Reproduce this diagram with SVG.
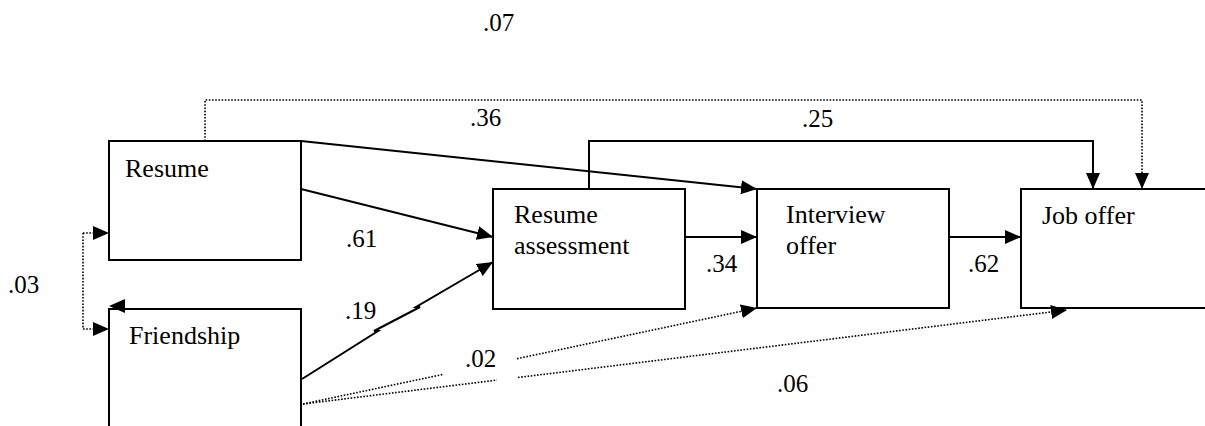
<svg xmlns="http://www.w3.org/2000/svg" width="1205" height="426" viewBox="0 0 1205 426">
<style>
.box{fill:#fff;stroke:#000;stroke-width:2}
.t{font-family:"Liberation Serif","Times New Roman",serif;font-size:26px;fill:#000}
.l{font-family:"Liberation Serif","Times New Roman",serif;font-size:25px;fill:#000}
.s{fill:none;stroke:#000;stroke-width:2}
.d{fill:none;stroke:#000;stroke-width:1.6;stroke-dasharray:1.6 1.6}
</style>
<defs>
<marker id="a" markerUnits="userSpaceOnUse" markerWidth="16" markerHeight="14" refX="16" refY="7" orient="auto">
<path d="M0,0 L16,7 L0,14 z" fill="#000"/>
</marker>
</defs>
<rect width="1205" height="426" fill="#fff"/>
<g id="resume"><rect class="box" x="109" y="141" width="192" height="119"/><text class="t" x="125" y="177">Resume</text></g>
<g id="friendship"><rect class="box" x="109" y="309" width="192" height="130"/><text class="t" x="129" y="344">Friendship</text></g>
<g id="resume-assessment"><rect class="box" x="493" y="189" width="192" height="120"/><text class="t" x="514" y="223">Resume</text><text class="t" x="514" y="254">assessment</text></g>
<g id="interview-offer"><rect class="box" x="757" y="189" width="192" height="119"/><text class="t" x="786" y="223">Interview</text><text class="t" x="786" y="254">offer</text></g>
<g id="job-offer"><rect class="box" x="1021" y="189" width="200" height="119"/><text class="t" x="1042" y="224">Job offer</text></g>
<g id="connectors">
<path class="d" d="M205,141 L205,100 L1142,100 L1142,189" marker-end="url(#a)"/>
<path class="s" d="M589,189 L589,141 L1093,141 L1093,189" marker-end="url(#a)"/>
<path class="s" d="M301,141 L757,189" marker-end="url(#a)"/>
<path class="s" d="M301,189 L493,237" marker-end="url(#a)"/>
<path class="s" d="M302,379 L378,331 L374,331 L420,307 L416,307 L493,262" marker-end="url(#a)"/>
<path class="s" d="M685,237 L757,237" marker-end="url(#a)"/>
<path class="s" d="M949,237 L1021,237" marker-end="url(#a)"/>
<path class="d" d="M83,233 L109,233" marker-end="url(#a)"/>
<path class="d" d="M83,233 L83,329 L109,329" marker-end="url(#a)"/>
<polygon points="109,306 125,299 125,313" fill="#000"/>
<path class="d" d="M303,404 L443,374.4"/>
<path class="d" d="M517,358.7 L757,308" marker-end="url(#a)"/>
<path class="d" d="M303,404 L497,380.1"/>
<path class="d" d="M518,377.5 L1067,310" marker-end="url(#a)"/>
</g>
<g id="labels">
<text class="l" x="483" y="31">.07</text>
<text class="l" x="470" y="126">.36</text>
<text class="l" x="802" y="127">.25</text>
<text class="l" x="346" y="247">.61</text>
<text class="l" x="345" y="319">.19</text>
<text class="l" x="706" y="272">.34</text>
<text class="l" x="968" y="272">.62</text>
<text class="l" x="465" y="367">.02</text>
<text class="l" x="777" y="392">.06</text>
<text class="l" x="8" y="293">.03</text>
</g>
</svg>
